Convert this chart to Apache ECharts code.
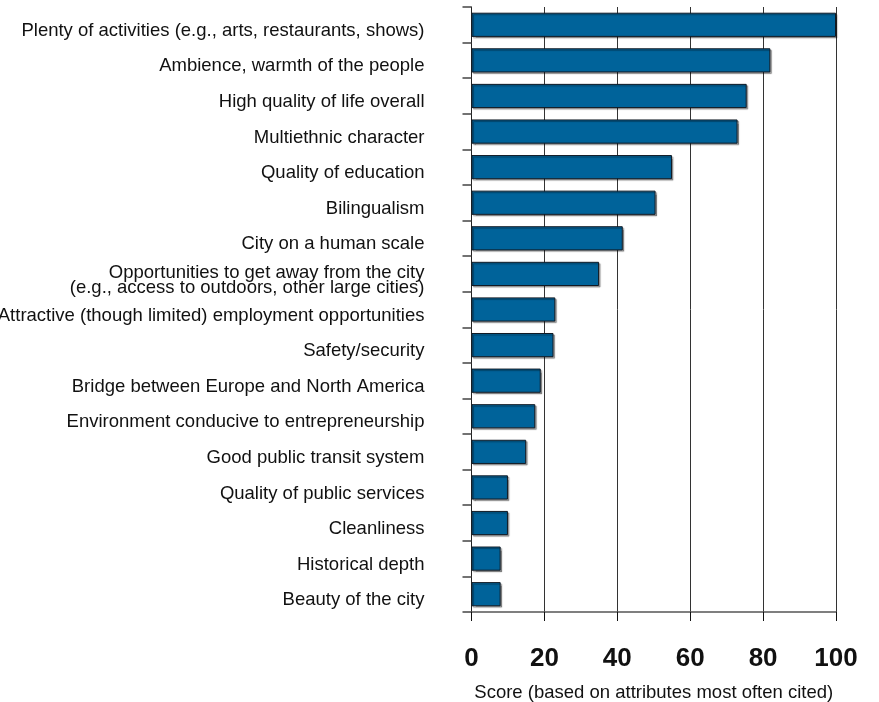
<!DOCTYPE html>
<html>
<head>
<meta charset="utf-8">
<script src="https://cdn.jsdelivr.net/npm/echarts@6/dist/echarts.min.js"></script>
<style>
  html, body { margin: 0; padding: 0; background: #fff; }
  #chart { width: 879px; height: 702px; }
</style>
</head>
<body>
<div id="chart"></div>
<script>
// Attributes, listed from most to least often cited
const categories = [
  'Plenty of activities (e.g., arts, restaurants, shows)',
  'Ambience, warmth of the people',
  'High quality of life overall',
  'Multiethnic character',
  'Quality of education',
  'Bilingualism',
  'City on a human scale',
  'Opportunities to get away from the city\n(e.g., access to outdoors, other large cities)',
  'Attractive (though limited) employment opportunities',
  'Safety/security',
  'Bridge between Europe and North America',
  'Environment conducive to entrepreneurship',
  'Good public transit system',
  'Quality of public services',
  'Cleanliness',
  'Historical depth',
  'Beauty of the city'
];
const scores = [100, 82, 75.5, 73, 55, 50.5, 41.5, 35, 23, 22.5, 19, 17.5, 15, 10, 10, 8, 8];
const xTicks = [0, 20, 40, 60, 80, 100];
const xTitle = 'Score (based on attributes most often cited)';

const chart = echarts.init(document.getElementById('chart'));
const font = '"Liberation Sans", Arial, sans-serif';

// Plot grid (bars, axes, gridlines) and a label grid set slightly lower so the
// category names sit a little below the bar centres.
const plotGrid = { left: 471.5, right: 43, top: 7, bottom: 90 };
const labelShift = 6;

chart.setOption({
  animation: false,
  backgroundColor: '#ffffff',
  grid: [
    Object.assign({ containLabel: false, outerBoundsMode: 'none' }, plotGrid),
    {
      left: plotGrid.left, right: plotGrid.right,
      top: plotGrid.top + labelShift, bottom: plotGrid.bottom - labelShift,
      containLabel: false, outerBoundsMode: 'none'
    }
  ],
  xAxis: [{
    type: 'value',
    gridIndex: 0,
    min: xTicks[0],
    max: xTicks[xTicks.length - 1],
    interval: xTicks[1] - xTicks[0],
    name: xTitle,
    nameLocation: 'middle',
    nameGap: 71,
    nameTextStyle: { fontFamily: font, fontSize: 18.5, color: '#111' },
    axisLine: { show: true, lineStyle: { color: '#555', width: 1.5 } },
    axisTick: { show: true, length: 9, lineStyle: { color: '#111', width: 1 } },
    axisLabel: { margin: 34, fontFamily: font, fontSize: 26, fontWeight: 'bold', color: '#111' },
    splitLine: { show: true, lineStyle: { color: '#333', width: 1 } }
  }, {
    type: 'value',
    gridIndex: 1,
    show: false
  }],
  yAxis: [{
    type: 'category',
    gridIndex: 0,
    inverse: true,
    data: categories,
    axisLine: { show: true, lineStyle: { color: '#222', width: 1 } },
    axisTick: { show: true, length: 9, lineStyle: { color: '#444', width: 1.5 } },
    axisLabel: { show: false },
    splitLine: { show: false }
  }, {
    type: 'category',
    gridIndex: 1,
    inverse: true,
    data: categories,
    axisLine: { show: false },
    axisTick: { show: false },
    axisLabel: {
      margin: 47,
      fontFamily: font,
      fontSize: 18.5,
      color: '#111',
      lineHeight: 15
    },
    splitLine: { show: false }
  }],
  series: [{
    type: 'bar',
    xAxisIndex: 0,
    yAxisIndex: 0,
    data: scores,
    barCategoryGap: '32%',
    itemStyle: {
      color: '#00639a',
      borderColor: '#111a24',
      borderWidth: 1,
      shadowColor: 'rgba(0,0,0,0.35)',
      shadowOffsetX: 1.5,
      shadowOffsetY: 1.5,
      shadowBlur: 1
    }
  }]
});
</script>
</body>
</html>
